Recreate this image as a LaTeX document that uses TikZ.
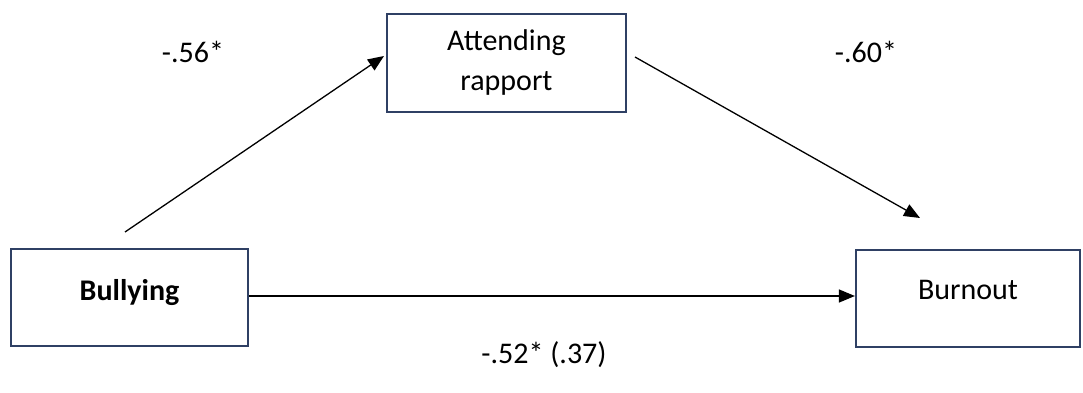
\documentclass[tikz,border=0pt]{standalone}
\usepackage{fontspec}
\setmainfont{Carlito}
\usetikzlibrary{arrows.meta}
\definecolor{boxblue}{RGB}{47,64,100}
\begin{document}
\begin{tikzpicture}[x=1pt,y=-1pt,
  varbox/.style={draw=boxblue,line width=2.2pt,fill=white,inner sep=0pt,align=center,font=\fontsize{30}{40}\selectfont},
  conn/.style={line width=1.3pt,-{Triangle[length=16pt,width=13pt]}},
  coef/.style={font=\fontsize{30}{36}\selectfont}]
\useasboundingbox (0,0) rectangle (1083,393);
\node[varbox,minimum width=237pt,minimum height=97pt] (bul) at (129.5,297.5) {\raisebox{16pt}{\textbf{Bullying}}};
\node[varbox,minimum width=239pt,minimum height=98pt] (att) at (506.5,63) {Attending\\rapport};
\node[varbox,minimum width=224pt,minimum height=97pt] (bur) at (968,298.5) {\raisebox{18pt}{Burnout}};
\coordinate (s1) at (125,232);
\coordinate (e1) at (384,56);
\coordinate (s2) at (635,57);
\coordinate (e2) at (920,218);
\draw[conn] (s1) -- (e1);
\draw[conn] (s2) -- (e2);
\draw[conn] (bul.east |- 0,296) -- (bur.west |- 0,296);
\node[coef] (c1) at (193,52) {-.56*};
\node[coef] (c2) at (866,52) {-.60*};
\node[coef] (c3) at (544,355) {-.52* (.37)};
\end{tikzpicture}
\end{document}
